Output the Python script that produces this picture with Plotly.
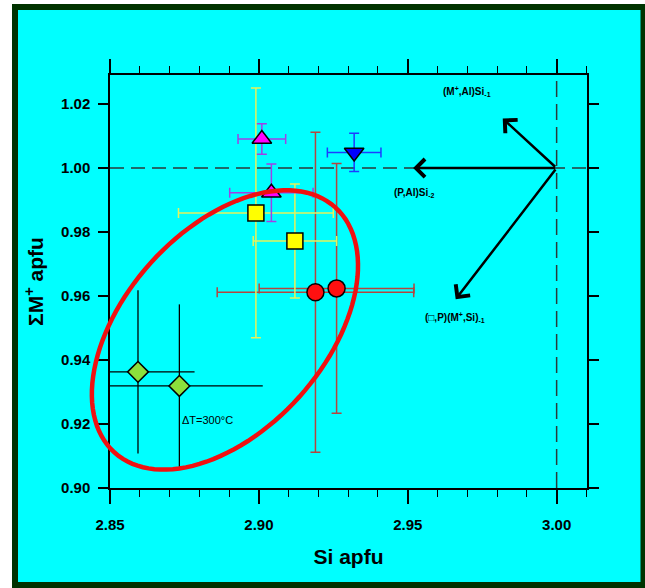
import numpy as np
import plotly.graph_objects as go

# axis ranges
x_range = [2.85, 3.0102]
y_range = [0.90, 1.0291]
x_ticks = [2.85, 2.90, 2.95, 3.00]
y_ticks = [0.90, 0.92, 0.94, 0.96, 0.98, 1.00, 1.02]

# green diamonds
dia_si = [2.8594, 2.8733]
dia_m = [0.9363, 0.9319]
dia_si_err = [0.019, 0.028]
dia_m_err = [0.0255, 0.0255]

# magenta triangles
mag_si = [2.9010, 2.9042]
mag_m = [1.0091, 0.9923]
mag_si_err = [0.008, 0.014]
mag_m_err = [0.0048, 0.009]

# yellow squares
yel_si = [2.8990, 2.9121]
yel_m = [0.9860, 0.9772]
yel_si_err = [0.026, 0.014]
yel_m_err = [0.039, 0.0178]

# blue inverted triangle
blu_si = [2.9320]
blu_m = [1.0049]
blu_si_err = [0.009]
blu_m_err = [0.006]

# red circles
red_si = [2.9190, 2.9261]
red_m = [0.9612, 0.9624]
red_si_err = [0.033, 0.026]
red_m_err = [0.050, 0.039]

# reference lines and exchange vectors
ref_si = 3.00
ref_m = 1.00
vec_tip_si = [2.9819, 2.9518, 2.9661]
vec_tip_m = [1.0155, 1.0000, 0.9590]
vec_labels = ['(M<sup>+</sup>,Al)Si<sub>-1</sub>', '(P,Al)Si<sub>-2</sub>',
              '(\u25a1,P)(M<sup>+</sup>,Si)<sub>-1</sub>']
vec_label_si = [2.9698, 2.9523, 2.9658]
vec_label_m = [1.0238, 0.9922, 0.9534]

# ellipse (semi axes in Si units, angle on screen)
ell_cx, ell_cy = 2.8886, 0.9494
ell_a, ell_b = 0.0554, 0.0336
ell_angle = 48.0

W, H = 645, 588
ML, MR, MT, MB = 110, 58, 75, 100
pw, ph = W - ML - MR, H - MT - MB

FONT = 'Liberation Sans, Arial, sans-serif'

fig = go.Figure()


def add_pts(si, m, ex, ey, symbol, size, fill, ecol, ewidth, cap, name):
    fig.add_trace(go.Scatter(
        x=si, y=m, mode='markers', name=name,
        marker=dict(symbol=symbol, size=size, color=fill,
                    line=dict(color='black', width=1.5)),
        error_x=dict(type='data', array=ex, color=ecol, thickness=ewidth, width=cap),
        error_y=dict(type='data', array=ey, color=ecol, thickness=ewidth, width=cap),
    ))


add_pts(dia_si, dia_m, dia_si_err, dia_m_err, 'diamond', 16, '#8CE03C', 'black', 1.3, 0, 'diamond')
add_pts(red_si, red_m, red_si_err, red_m_err, 'circle', 17, '#FF1010', '#B5453E', 1.5, 5, 'red')
add_pts(yel_si, yel_m, yel_si_err, yel_m_err, 'square', 16, '#FFFF00', '#E6F25C', 1.5, 5, 'yellow')
add_pts(mag_si, mag_m, mag_si_err, mag_m_err, 'triangle-up', 17, '#FF00FF', '#A040E6', 1.5, 5, 'magenta')
add_pts(blu_si, blu_m, blu_si_err, blu_m_err, 'triangle-down', 17, '#0000FF', '#1E3CFF', 1.5, 5, 'blue')

# ellipse path in axis-domain coordinates (not clipped)
sx = pw / (x_range[1] - x_range[0])
t = np.linspace(0, 2 * np.pi, 121)
th = np.radians(ell_angle)
dx_px = (ell_a * np.cos(t) * np.cos(th) - ell_b * np.sin(t) * np.sin(th)) * sx
dy_px = (ell_a * np.cos(t) * np.sin(th) + ell_b * np.sin(t) * np.cos(th)) * sx
ex = (ell_cx - x_range[0]) / (x_range[1] - x_range[0]) + dx_px / pw
ey = (ell_cy - y_range[0]) / (y_range[1] - y_range[0]) + dy_px / ph
ell_path = 'M' + ' L'.join(f'{a:.4f},{b:.4f}' for a, b in zip(ex, ey)) + ' Z'

shapes = [
    # outer frame
    dict(type='rect', xref='paper', yref='paper', layer='below',
         x0=(15 - ML) / pw, x1=(643.5 - ML) / pw,
         y0=(MT + ph - 585) / ph, y1=(MT + ph - 7) / ph,
         fillcolor='#00FFFF', line=dict(color='#003300', width=6)),
    dict(type='line', xref='paper', yref='y', x0=0, x1=1, y0=ref_m, y1=ref_m,
         layer='below', line=dict(color='#2A3A3A', width=1.5, dash='14px,7px')),
    dict(type='line', xref='x', yref='paper', x0=ref_si, x1=ref_si, y0=0, y1=1,
         layer='below', line=dict(color='#2A3A3A', width=1.5, dash='16px,7px')),
    dict(type='path', xref='x domain', yref='y domain', path=ell_path,
         line=dict(color='#F01010', width=4.5), layer='above'),
]

annotations = []
for tx, ty in zip(vec_tip_si, vec_tip_m):
    annotations.append(dict(x=tx, y=ty, ax=ref_si, ay=ref_m, xref='x', yref='y',
                            axref='x', ayref='y', text='', showarrow=True,
                            arrowhead=4, arrowsize=1.4, arrowwidth=2.5,
                            arrowcolor='black'))
for lab, lx, ly in zip(vec_labels, vec_label_si, vec_label_m):
    annotations.append(dict(x=lx, y=ly, xref='x', yref='y', text='<b>' + lab + '</b>',
                            showarrow=False, font=dict(family=FONT, size=10, color='black')))
annotations.append(dict(x=2.8735, y=0.9213, xref='x', yref='y', text='\u0394T=300\u00b0C',
                        xanchor='left', showarrow=False,
                        font=dict(family=FONT, size=11, color='black')))

fig.update_layout(
    width=W, height=H,
    margin=dict(l=ML, r=MR, t=MT, b=MB),
    paper_bgcolor='white', plot_bgcolor='rgba(0,0,0,0)',
    showlegend=False,
    font=dict(family=FONT, color='black'),
    shapes=shapes, annotations=annotations,
    xaxis=dict(range=x_range, tickvals=x_ticks, tickformat='.2f',
               ticks='outside', ticklen=14, tickwidth=1.5, tickcolor='black',
               minor=dict(dtick=0.01, tick0=2.85, ticks='outside', ticklen=7,
                          tickwidth=1.2, tickcolor='black'),
               showline=True, linecolor='black', linewidth=1.5, mirror='ticks',
               showgrid=False, zeroline=False, ticklabelstandoff=8,
               tickfont=dict(family=FONT, size=15, color='black', weight='bold'),
               title=dict(text='<b>Si apfu</b>', standoff=18,
                          font=dict(family=FONT, size=21, color='black'))),
    yaxis=dict(range=y_range, tickvals=y_ticks, tickformat='.2f',
               ticks='outside', ticklen=10, tickwidth=1.5, tickcolor='black',
               showline=True, linecolor='black', linewidth=1.5, mirror='ticks',
               showgrid=False, zeroline=False, ticklabelstandoff=5,
               tickfont=dict(family=FONT, size=15, color='black', weight='bold'),
               title=dict(text='<b>\u03a3M<sup>+</sup> apfu</b>', standoff=12,
                          font=dict(family=FONT, size=21, color='black'))),
)

fig.write_html('out.html', config={'displayModeBar': False},
               post_script="document.body.style.margin='0';")
